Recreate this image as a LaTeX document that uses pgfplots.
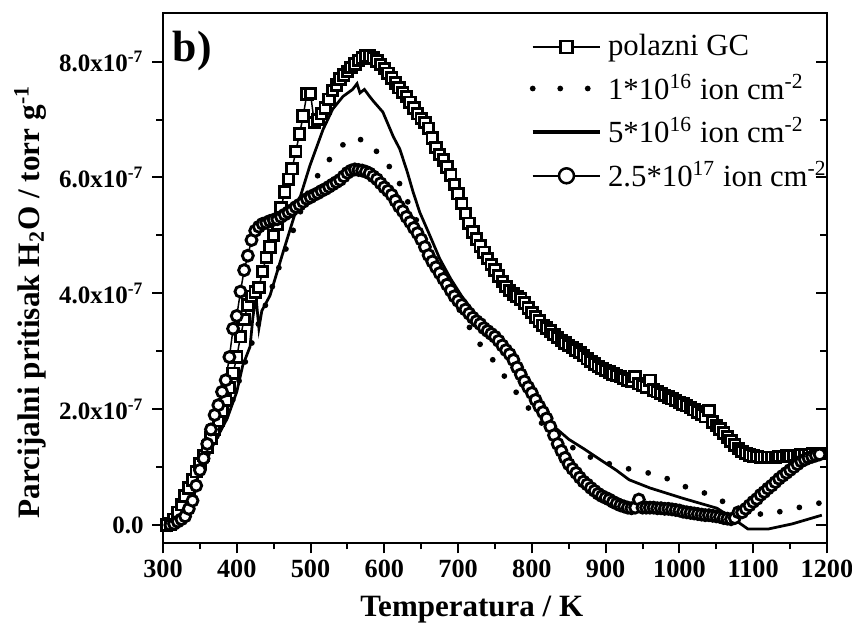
\documentclass[border=0pt]{standalone}
\usepackage{pgfplots}
\pgfplotsset{compat=1.18}
\usepackage{fontspec}
\setmainfont{Liberation Serif}
\begin{document}
\begin{tikzpicture}
\begin{axis}[
 name=main,
 scale only axis, width=265.6pt, height=212pt,
 xmin=300, xmax=1200, ymin=-0.31, ymax=8.84,
 xtick={300,400,...,1200}, minor x tick num=1,
 ytick={0,2,4,6,8}, minor y tick num=1,
 yticklabels={\textbf{0.0},\textbf{2.0x10\textsuperscript{-7}},\textbf{4.0x10\textsuperscript{-7}},\textbf{6.0x10\textsuperscript{-7}},\textbf{8.0x10\textsuperscript{-7}}},
 xtick pos=left, ytick pos=left, tick align=outside,
 major tick length=4.2pt, minor tick length=2.6pt,
 every tick/.style={black, line width=0.8pt},
 axis line style={line width=1pt},
 /pgf/number format/assume math mode=true,
 /pgf/number format/set thousands separator={},
 xticklabel style={font=\bfseries\fontsize{10.5}{10.5}\selectfont, yshift=1pt},
 yticklabel style={font=\bfseries\fontsize{10}{10}\selectfont},
 xlabel={\textbf{Temperatura / K}},
 ylabel={\textbf{Parcijalni pritisak H\textsubscript{2}O / torr g\textsuperscript{-1}}},
 xlabel style={font=\fontsize{12.4}{12.4}\selectfont, at={(axis description cs:0.465,0)}, anchor=base, yshift=-29.6pt},
 ylabel style={font=\fontsize{12.5}{12.5}\selectfont, at={(axis description cs:-0.2,0.455)}, anchor=center},
 legend image code/.code={\draw[mark repeat=2,mark phase=2,#1] plot coordinates {(0pt,0pt) (13.5pt,0pt) (27pt,0pt)};},
 legend style={draw=none, fill=none, font=\fontsize{12.3}{14}\selectfont, at={(0.548,0.975)}, anchor=north west, row sep=1.9pt, inner sep=1pt, /tikz/every even column/.append style={column sep=2.5pt}},
 legend cell align=left,
]
\addplot[black, line width=0.6pt, mark=square*, mark size=2.1pt, mark options={fill=white, line width=1.15pt, solid}, legend image post style={mark size=2.4pt, mark options={fill=white, line width=1pt, solid}}] table {
305 0.00
310 0.02
315 0.10
320 0.22
325 0.35
330 0.50
335 0.64
340 0.78
345 0.92
350 1.06
355 1.20
360 1.35
365 1.50
370 1.65
375 1.80
380 1.97
385 2.15
390 2.37
395 2.62
400 2.90
405 3.25
410 3.55
415 3.80
420 3.95
425 4.02
430 4.10
435 4.38
440 4.62
445 4.80
450 5.00
455 5.20
460 5.48
465 5.75
470 5.97
475 6.15
480 6.45
485 6.75
490 7.06
495 7.44
500 7.45
505 6.95
510 7.00
515 7.10
520 7.20
525 7.35
530 7.50
535 7.60
540 7.70
545 7.77
550 7.83
555 7.90
560 7.96
565 8.02
570 8.06
575 8.10
580 8.10
585 8.06
590 8.01
595 7.95
600 7.88
605 7.80
610 7.72
615 7.63
620 7.55
625 7.47
630 7.40
635 7.30
640 7.20
645 7.10
650 7.02
655 6.95
660 6.85
665 6.68
670 6.52
675 6.40
680 6.30
685 6.18
690 6.04
695 5.88
700 5.72
705 5.55
710 5.38
715 5.21
720 5.06
725 4.94
730 4.82
735 4.71
740 4.60
745 4.50
750 4.40
755 4.30
760 4.20
765 4.12
770 4.05
775 3.99
780 3.95
785 3.90
790 3.83
795 3.75
800 3.67
805 3.59
810 3.52
815 3.45
820 3.40
825 3.35
830 3.29
835 3.24
840 3.19
845 3.14
850 3.10
855 3.06
860 3.02
865 2.98
870 2.93
875 2.87
880 2.82
885 2.78
890 2.74
895 2.70
900 2.67
905 2.64
910 2.61
915 2.58
920 2.56
925 2.53
930 2.50
935 2.48
940 2.56
945 2.44
950 2.41
955 2.38
960 2.50
965 2.33
970 2.30
975 2.27
980 2.24
985 2.21
990 2.18
995 2.15
1000 2.12
1005 2.09
1010 2.06
1015 2.03
1020 1.99
1025 1.95
1030 1.91
1035 1.87
1040 1.98
1045 1.78
1050 1.72
1055 1.66
1060 1.59
1065 1.52
1070 1.45
1075 1.38
1080 1.32
1085 1.27
1090 1.24
1095 1.21
1100 1.19
1105 1.18
1110 1.17
1115 1.17
1120 1.17
1125 1.17
1130 1.17
1135 1.18
1140 1.18
1145 1.19
1150 1.19
1155 1.20
1160 1.20
1165 1.21
1170 1.22
1175 1.22
1180 1.23
1185 1.23
1190 1.24
};
\addlegendentry{polazni GC}
\addplot[black, line width=2.3pt, line cap=round, dash pattern=on 0pt off 8pt, legend image post style={dash pattern=on 0pt off 11pt}] table {
310 0.00
330 0.45
350 0.95
370 1.45
385 1.85
398 2.27
407 2.65
418 3.05
430 3.50
445 4.00
460 4.55
480 5.20
495 5.70
509 6.02
529 6.37
549 6.63
563 6.68
576 6.61
598 6.35
617 6.00
631 5.60
644 5.25
660 4.80
680 4.25
700 3.75
726 3.18
746 2.87
770 2.44
790 2.10
810 1.80
830 1.55
850 1.38
870 1.22
890 1.12
914 1.02
945 0.93
974 0.86
1001 0.69
1031 0.57
1060 0.40
1090 0.25
1116 0.17
1146 0.26
1176 0.34
1190 0.38
};
\addlegendentry{1*10\textsuperscript{16} ion cm\textsuperscript{-2}}
\addplot[black, line width=1.1pt, legend image post style={line width=1.8pt}] table {
310 0.00
320 0.24
337 0.58
354 1.03
373 1.50
387 1.84
400 2.30
408 2.75
418 3.08
422 3.60
426 3.95
430 3.40
434 3.70
445 3.96
463 4.72
482 5.50
499 6.20
517 6.83
530 7.18
544 7.40
557 7.52
563 7.62
567 7.46
573 7.52
580 7.40
585 7.32
598 7.13
612 6.71
621 6.49
631 6.10
639 5.75
648 5.40
662 4.99
675 4.60
690 4.25
705 3.95
720 3.70
735 3.45
750 3.22
765 2.97
780 2.68
795 2.38
812 2.00
830 1.70
850 1.48
870 1.32
890 1.15
914 0.95
932 0.78
960 0.64
1005 0.46
1051 0.29
1074 0.10
1093 -0.07
1120 -0.07
1153 0.02
1193 0.17
};
\addlegendentry{5*10\textsuperscript{16} ion cm\textsuperscript{-2}}
\addplot[black, line width=0.6pt, mark=*, mark size=2.2pt, mark options={fill=white, line width=1.15pt, solid}, legend image post style={mark size=3pt, mark options={fill=white, line width=1pt, solid}}] table {
310 0.00
315 0.02
320 0.06
325 0.10
330 0.15
335 0.28
340 0.42
345 0.68
350 0.95
355 1.15
360 1.40
365 1.65
370 1.90
375 2.07
380 2.30
385 2.50
390 2.90
395 3.39
400 3.61
405 4.03
410 4.40
415 4.65
420 4.92
425 5.08
430 5.15
435 5.20
440 5.22
445 5.25
450 5.27
455 5.28
460 5.32
465 5.36
470 5.40
475 5.44
480 5.49
485 5.53
490 5.58
495 5.63
500 5.66
505 5.70
510 5.73
515 5.77
520 5.80
525 5.84
530 5.88
535 5.92
540 5.96
545 6.02
550 6.08
555 6.12
560 6.14
565 6.13
570 6.12
575 6.10
580 6.07
585 6.02
590 5.97
595 5.90
600 5.83
605 5.77
610 5.70
615 5.60
620 5.50
625 5.42
630 5.32
635 5.23
640 5.13
645 5.04
650 4.93
655 4.80
660 4.66
665 4.55
670 4.45
675 4.35
680 4.25
685 4.15
690 4.05
695 3.95
700 3.87
705 3.80
710 3.72
715 3.65
720 3.58
725 3.52
730 3.47
735 3.40
740 3.35
745 3.30
750 3.25
755 3.18
760 3.10
765 3.02
770 2.95
775 2.85
780 2.72
785 2.60
790 2.48
795 2.38
800 2.28
805 2.16
810 2.05
815 1.95
820 1.84
825 1.70
830 1.55
835 1.40
840 1.28
845 1.16
850 1.05
855 0.97
860 0.90
865 0.82
870 0.75
875 0.70
880 0.64
885 0.59
890 0.54
895 0.50
900 0.47
905 0.44
910 0.40
915 0.37
920 0.34
925 0.32
930 0.30
935 0.29
940 0.30
945 0.44
950 0.30
955 0.30
960 0.30
965 0.30
970 0.29
975 0.29
980 0.28
985 0.28
990 0.27
995 0.26
1000 0.25
1005 0.23
1010 0.22
1015 0.21
1020 0.20
1025 0.19
1030 0.18
1035 0.17
1040 0.17
1045 0.16
1050 0.15
1055 0.14
1060 0.12
1065 0.11
1070 0.10
1075 0.12
1080 0.22
1085 0.22
1090 0.28
1095 0.34
1100 0.40
1105 0.45
1110 0.52
1115 0.57
1120 0.63
1125 0.68
1130 0.74
1135 0.80
1140 0.85
1145 0.90
1150 0.95
1155 1.00
1160 1.05
1165 1.10
1170 1.13
1175 1.16
1180 1.18
1185 1.20
1190 1.22
};
\addlegendentry{2.5*10\textsuperscript{17} ion cm\textsuperscript{-2}}
\node[anchor=north west, font=\bfseries\fontsize{17.5}{17.5}\selectfont, inner sep=0pt] at (rel axis cs:0.014,0.967) {b)};
\end{axis}
\begin{axis}[
 scale only axis, width=265.6pt, height=212pt,
 xmin=300, xmax=1200, ymin=-0.31, ymax=8.84,
 axis x line=none, axis y line*=right,
 ytick={0,2,4,6,8}, minor y tick num=1, yticklabels={},
 tick align=inside, major tick length=4.2pt, minor tick length=2.6pt,
 every tick/.style={black, line width=0.8pt},
 axis line style={line width=1pt},
]
\end{axis}
\pgfresetboundingbox
\path (main.south west) ++(-65.2pt,-33.2pt) rectangle ++(340.8pt,250.4pt);
\end{tikzpicture}
\end{document}
